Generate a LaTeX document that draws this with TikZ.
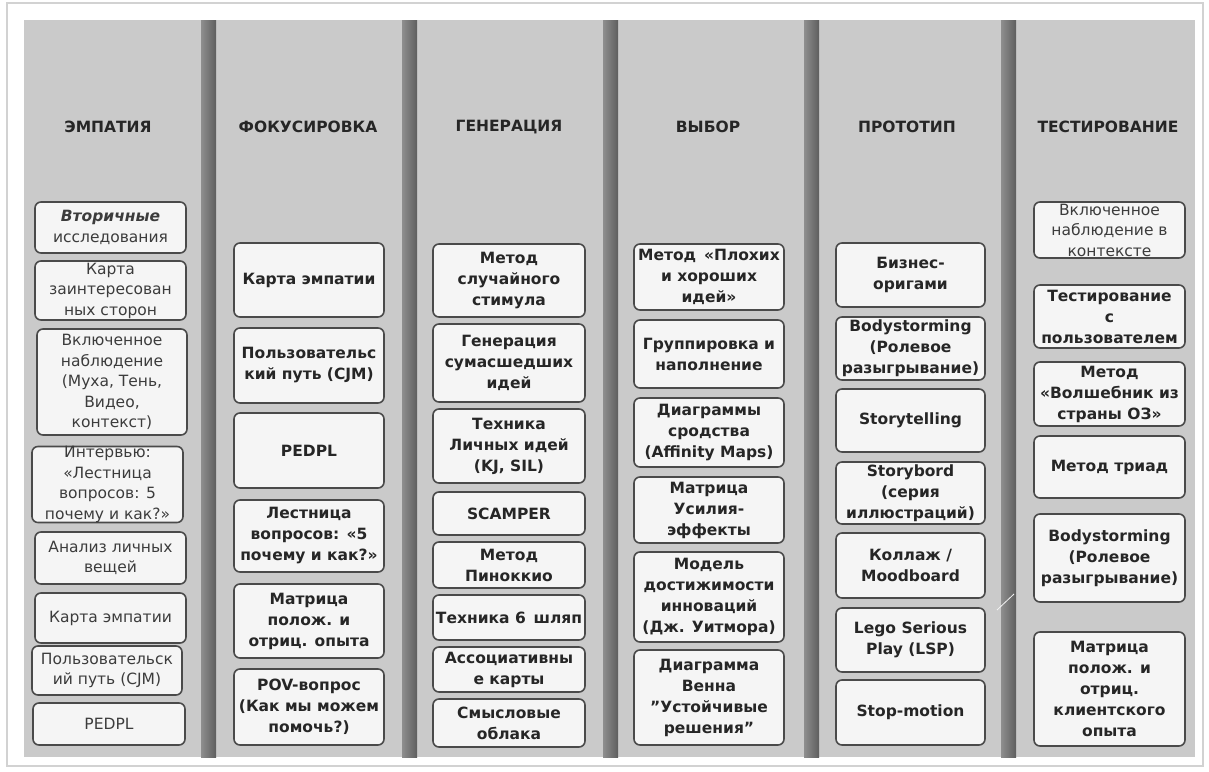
\documentclass[tikz,border=0pt]{standalone}
\usepackage{fontspec}
\setmainfont{DejaVu Sans}
\definecolor{bg}{HTML}{CACACA}
\definecolor{framec}{HTML}{D2D2D2}
\definecolor{sepA}{HTML}{8E8E8E}
\definecolor{sepB}{HTML}{5E5E5E}
\definecolor{boxfill}{HTML}{F5F5F5}
\definecolor{boxline}{HTML}{4A4A4A}
\definecolor{txt}{HTML}{262626}
\definecolor{txtl}{HTML}{3C3C3C}
\newcommand\bx[7][]{%
  \node[box,#1,minimum width={(#5-#3)*1pt},minimum height={(#6-#4)*1pt}] (#2) at ({(#3+#5)/2},{(#4+#6)/2}) {#7};}
\newcommand\sepbar[1]{\shade[left color=sepA,right color=sepB] (#1,20) rectangle ({#1+15},757);}
\begin{document}
\begin{tikzpicture}[x=1pt,y=-1pt,
  box/.style={draw=boxline,line width=1.6pt,rounded corners=6pt,fill=boxfill,inner sep=0pt,
    align=center,text=txt,font=\bfseries\fontsize{15.5}{21}\selectfont},
  lite/.style={text=txtl,font=\mdseries\fontsize{15.5}{20.5}\selectfont},
  head/.style={font=\bfseries\fontsize{15.5}{18}\selectfont,text=txt,inner sep=0pt}]
\useasboundingbox (0,0) rectangle (1209,771);
\fill[white] (0,0) rectangle (1209,771);
\draw[framec,line width=1.2pt] (7,3) rectangle (1203,766);
\fill[bg] (24,20) rectangle (1195,757);
\sepbar{201}\sepbar{402}\sepbar{603}\sepbar{804}\sepbar{1001}
\draw[white!80!bg,line width=0.8pt] (997,610) -- (1014,594);
% headings
\node[head] (h1) at (108,127) {ЭМПАТИЯ};
\node[head] (h2) at (308,127) {ФОКУСИРОВКА};
\node[head] (h3) at (509,127) {ГЕНЕРАЦИЯ};
\node[head] (h4) at (708,127) {ВЫБОР};
\node[head] (h5) at (907,127) {ПРОТОТИП};
\node[head] (h6) at (1108,127) {ТЕСТИРОВАНИЕ};
% column 1
\bx[lite]{c1a}{35}{202}{186}{253}{{\bfseries\itshape Вторичные}\\исследования}
\bx[lite]{c1b}{35}{261}{186}{320}{Карта\\заинтересован\\ных сторон}
\bx[lite]{c1c}{37}{329}{187}{435}{Включенное\\наблюдение\\(Муха, Тень,\\Видео,\\контекст)}
\bx[lite]{c1d}{32}{447}{183}{522}{Интервью:\\«Лестница\\вопросов: 5\\почему и как?»}
\bx[lite]{c1e}{35}{532}{186}{584}{Анализ личных\\вещей}
\bx[lite]{c1f}{35}{593}{186}{643}{Карта эмпатии}
\bx[lite]{c1g}{32}{646}{182}{695}{Пользовательск\\ий путь (CJM)}
\bx[lite]{c1h}{33}{703}{185}{745}{PEDPL}
% column 2
\bx{c2a}{234}{243}{384}{317}{Карта эмпатии}
\bx{c2b}{234}{328}{384}{403}{Пользовательс\\кий путь (CJM)}
\bx{c2c}{234}{413}{384}{488}{PEDPL}
\bx{c2d}{234}{500}{384}{572}{Лестница\\вопросов: «5\\почему и как?»}
\bx{c2e}{234}{584}{384}{658}{Матрица\\полож. и\\отриц. опыта}
\bx{c2f}{234}{669}{384}{745}{POV-вопрос\\(Как мы можем\\помочь?)}
% column 3
\bx{c3a}{433}{244}{585}{317}{Метод\\случайного\\стимула}
\bx{c3b}{433}{324}{585}{402}{Генерация\\сумасшедших\\идей}
\bx{c3c}{433}{409}{585}{483}{Техника\\Личных идей\\(KJ, SIL)}
\bx{c3d}{433}{492}{585}{535}{SCAMPER}
\bx{c3e}{433}{542}{585}{588}{Метод\\Пиноккио}
\bx{c3f}{433}{595}{585}{640}{Техника 6\enspace шляп}
\bx{c3g}{433}{647}{585}{692}{Ассоциативны\\е карты}
\bx{c3h}{433}{699}{585}{747}{Смысловые\\облака}
% column 4
\bx{c4a}{634}{244}{784}{310}{Метод\enspace «Плохих\\и хороших\\идей»}
\bx{c4b}{634}{320}{784}{388}{Группировка и\\наполнение}
\bx{c4c}{634}{398}{784}{467}{Диаграммы\\сродства\\(Affinity Maps)}
\bx{c4d}{634}{477}{784}{543}{Матрица\\Усилия-\\эффекты}
\bx{c4e}{634}{552}{784}{642}{Модель\\достижимости\\инноваций\\(Дж. Уитмора)}
\bx{c4f}{634}{650}{784}{745}{Диаграмма\\Венна\\"Устойчивые\\решения"}
% column 5
\bx{c5a}{836}{243}{985}{307}{Бизнес-\\оригами}
\bx{c5b}{836}{317}{985}{380}{Bodystorming\\(Ролевое\\разыгрывание)}
\bx{c5c}{836}{389}{985}{452}{Storytelling}
\bx{c5d}{836}{462}{985}{524}{Storybord\\(серия\\иллюстраций)}
\bx{c5e}{836}{533}{985}{598}{Коллаж /\\Moodboard}
\bx{c5f}{836}{608}{985}{672}{Lego Serious\\Play (LSP)}
\bx{c5g}{836}{680}{985}{745}{Stop-motion}
% column 6
\bx[lite]{c6a}{1034}{202}{1185}{258}{Включенное\\наблюдение в\\контексте}
\bx{c6b}{1034}{285}{1185}{348}{Тестирование\\с\\пользователем}
\bx{c6c}{1034}{362}{1185}{426}{Метод\\«Волшебник из\\страны ОЗ»}
\bx{c6d}{1034}{436}{1185}{498}{Метод триад}
\bx{c6e}{1034}{514}{1185}{602}{Bodystorming\\(Ролевое\\разыгрывание)}
\bx{c6f}{1034}{632}{1185}{746}{Матрица\\полож. и\\отриц.\\клиентского\\опыта}
\end{tikzpicture}
\end{document}
